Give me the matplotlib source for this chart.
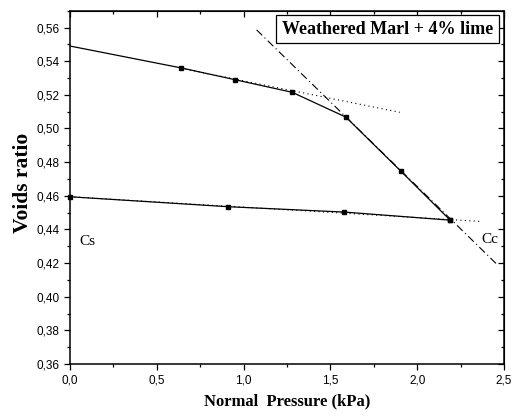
import numpy as np
import matplotlib.pyplot as plt
from matplotlib.ticker import MultipleLocator, FuncFormatter

# loading branch (first point sits on the axis, no marker visible)
load_x = [0.0, 0.64, 0.95, 1.28, 1.59, 1.905, 2.19]
load_e = [0.549, 0.536, 0.529, 0.5215, 0.5067, 0.4747, 0.4455]

# unloading branch
unload_x = [0.0, 0.91, 1.58, 2.19]
unload_e = [0.4594, 0.4535, 0.4503, 0.4455]

# construction lines
cs_load_x = [0.64, 1.90]
cs_load_e = [0.5358, 0.5096]
cs_unload_x = [0.0, 2.36]
cs_unload_e = [0.4594, 0.4448]
cc_x = [1.075, 2.454]
cc_e = [0.5586, 0.4198]

serif = 'Liberation Serif'
sans = 'Liberation Sans'

fig = plt.figure(figsize=(5.15, 4.18), dpi=100, facecolor='white')
ax = fig.add_axes([0.1359, 0.1292, 0.8427, 0.8452])

ax.plot(cs_load_x, cs_load_e, color='black', lw=0.8, linestyle=(0, (1, 3)))
ax.plot(cs_unload_x, cs_unload_e, color='black', lw=0.8, linestyle=(0, (1, 3)))
ax.plot(cc_x, cc_e, color='black', lw=0.8, linestyle=(0, (7, 3, 1, 3)))

ax.plot(load_x, load_e, color='black', lw=0.9)
ax.plot(load_x[1:], load_e[1:], 's', color='black', ms=3)
ax.plot(unload_x, unload_e, color='black', lw=0.9, marker='s', ms=3, clip_on=False)

ax.text(0.052, 0.4326, 'Cs', family=serif, fontsize=11, va='center', ha='left')
ax.text(2.371, 0.434, 'Cc', family=serif, fontsize=11, va='center', ha='left')
ax.text(0.975, 0.9476, 'Weathered Marl + 4% lime', transform=ax.transAxes,
        family=serif, fontweight='bold', fontsize=13, ha='right', va='center',
        bbox=dict(boxstyle='square,pad=0.3', fc='white', ec='black', lw=0.9))

ax.set_xlim(0, 2.5)
ax.set_ylim(0.36, 0.57)
ax.xaxis.set_major_locator(MultipleLocator(0.5))
ax.xaxis.set_minor_locator(MultipleLocator(0.25))
ax.yaxis.set_major_locator(MultipleLocator(0.02))
ax.yaxis.set_minor_locator(MultipleLocator(0.01))
ax.xaxis.set_major_formatter(FuncFormatter(lambda v, p: f'{v:.1f}'.replace('.', ',')))
ax.yaxis.set_major_formatter(FuncFormatter(lambda v, p: f'{v:.2f}'.replace('.', ',')))

ax.tick_params(which='both', direction='out', top=False, right=False, width=0.9)
ax.tick_params(which='major', length=4, labelsize=8.5)
ax.tick_params(which='minor', length=2.5)
for lab in ax.get_xticklabels() + ax.get_yticklabels():
    lab.set_family(sans)

# inward ticks on top and right
ax_t = ax.secondary_xaxis('top')
ax_t.xaxis.set_major_locator(MultipleLocator(0.5))
ax_t.xaxis.set_minor_locator(MultipleLocator(0.25))
ax_t.tick_params(which='both', direction='in', labeltop=False, width=0.9)
ax_t.tick_params(which='major', length=4)
ax_t.tick_params(which='minor', length=2.5)
ax_r = ax.secondary_yaxis('right')
ax_r.yaxis.set_major_locator(MultipleLocator(0.02))
ax_r.yaxis.set_minor_locator(MultipleLocator(0.01))
ax_r.tick_params(which='both', direction='in', labelright=False, width=0.9)
ax_r.tick_params(which='major', length=4)
ax_r.tick_params(which='minor', length=2.5)

for s in ax.spines.values():
    s.set_linewidth(1.1)

ax.set_xlabel('Normal  Pressure (kPa)', family=serif, fontweight='bold', fontsize=12, labelpad=5)
ax.set_ylabel('Voids ratio', family=serif, fontweight='bold', fontsize=15.5)
ax.yaxis.set_label_coords(-0.085, 0.512)

fig.savefig('out.png', dpi=100)
